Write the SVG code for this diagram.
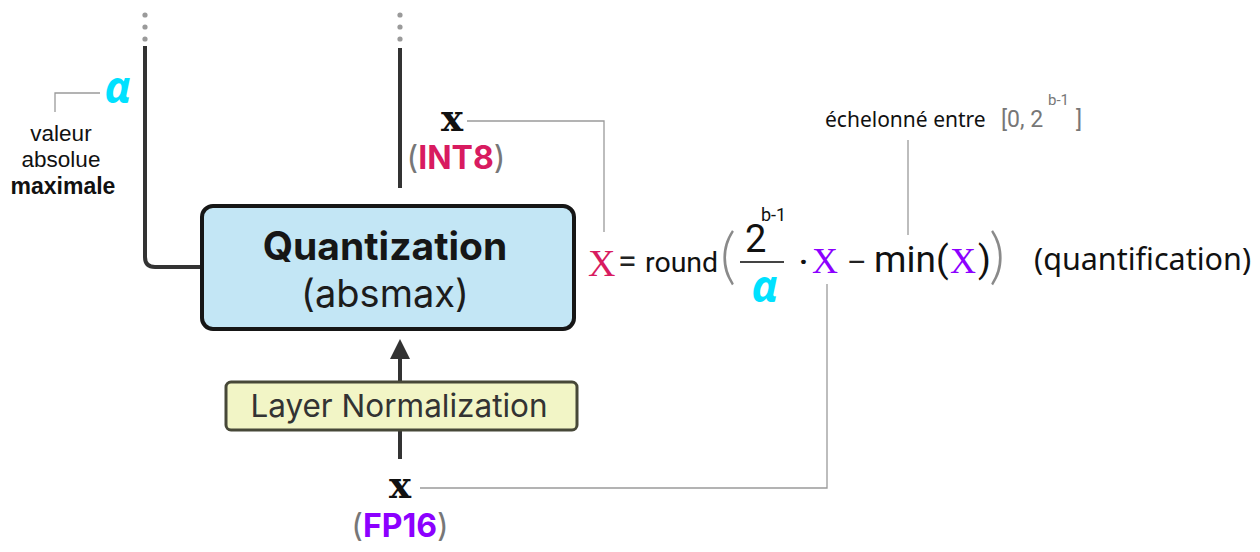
<svg xmlns="http://www.w3.org/2000/svg" width="1260" height="552" viewBox="0 0 1260 552">
<defs>
<style>
.main{stroke:#333;stroke-width:4;fill:none}
.thin{stroke:#9a9a9a;stroke-width:1.3;fill:none}
.dot{fill:#9a9a9a}
.inter{font-family:Inter,"Noto Sans",sans-serif}
.sans{font-family:"Noto Sans","Open Sans",sans-serif}
.lib{font-family:"Liberation Sans",Arial,sans-serif;fill:#111}
.rob{font-family:Roboto,"Noto Sans",sans-serif}
.serifx{font-family:"DejaVu Serif","Liberation Serif",serif;font-weight:bold;fill:#111}
.bigx{font-family:"Liberation Serif","DejaVu Serif",serif}
.alpha{font-family:"Noto Sans",sans-serif;font-weight:bold;font-style:italic;fill:#00e1ff}
.paren{font-family:Lato,"Noto Sans",sans-serif;font-weight:300;fill:#8a8a8a}
.gray{fill:#777}
.red{fill:#d81b60}
.purple{fill:#8c00ff}
</style>
<marker id="arr" viewBox="0 0 10 10" refX="0" refY="5" markerWidth="5" markerHeight="5" markerUnits="strokeWidth" orient="auto">
<path d="M0,0 L10,5 L0,10 Z" fill="#333"/>
</marker>
</defs>
<rect width="1260" height="552" fill="#fff"/>

<g id="connectors">
<circle class="dot" cx="145" cy="15" r="2.6"/>
<circle class="dot" cx="145" cy="27" r="2.6"/>
<circle class="dot" cx="145" cy="39" r="2.6"/>
<circle class="dot" cx="400" cy="15" r="2.6"/>
<circle class="dot" cx="400" cy="27" r="2.6"/>
<circle class="dot" cx="400" cy="39" r="2.6"/>
<path class="main" d="M145,46 V257 Q145,267 155,267 H203"/>
<path class="main" d="M400,48 V188"/>
<path class="main" d="M400,381 V359" marker-end="url(#arr)"/>
<path class="main" d="M400,431 V459"/>
<path class="thin" d="M420,488 H827 V284"/>
<path class="thin" d="M467,121 H604 V232"/>
<path class="thin" d="M908,140 V235"/>
<path class="thin" d="M100,93 H55 V112"/>
</g>

<g id="quantization">
<rect x="202" y="206" width="372" height="123" rx="11" fill="#c3e6f5" stroke="#161616" stroke-width="4"/>
<text class="inter" x="385" y="260" text-anchor="middle" font-size="39" font-weight="bold" fill="#161616">Quantization</text>
<text class="inter" x="385" y="307" text-anchor="middle" font-size="38" fill="#1c1c1c">(absmax)</text>
</g>

<g id="layernorm">
<rect x="226" y="382" width="351" height="48" rx="5" fill="#f2f5c6" stroke="#474838" stroke-width="3"/>
<text class="inter" x="399" y="417" text-anchor="middle" font-size="31.5" fill="#333">Layer Normalization</text>
</g>

<g id="input-x">
<text class="serifx" x="400" y="498" text-anchor="middle" font-size="37">x</text>
<text class="inter" x="400" y="537" text-anchor="middle" font-size="32" font-weight="bold"><tspan class="gray" font-weight="normal">(</tspan><tspan class="purple">FP16</tspan><tspan class="gray" font-weight="normal">)</tspan></text>
</g>

<g id="output-x">
<text class="serifx" x="452" y="131" text-anchor="middle" font-size="37">x</text>
<text class="inter" x="456" y="169" text-anchor="middle" font-size="32" font-weight="bold"><tspan class="gray" font-weight="normal">(</tspan><tspan class="red">INT8</tspan><tspan class="gray" font-weight="normal">)</tspan></text>
</g>

<g id="alpha-label">
<text class="alpha" x="118" y="103" text-anchor="middle" font-size="44">α</text>
<text class="lib" x="61" y="141" text-anchor="middle" font-size="22.5">valeur</text>
<text class="lib" x="61" y="167" text-anchor="middle" font-size="22.5">absolue</text>
<text class="lib" x="63" y="194" text-anchor="middle" font-size="23" font-weight="bold">maximale</text>
</g>

<g id="formula">
<text class="bigx red" x="588" y="276" font-size="38">X</text>
<text class="rob" x="618" y="273" font-size="34" fill="#222">=</text>
<text class="rob" x="645" y="272" font-size="28.5" fill="#111">round</text>
<text class="paren" x="720" y="277" font-size="62">(</text>
<text class="rob" x="745" y="252" font-size="38" fill="#111">2</text>
<text class="rob" x="761" y="221" font-size="18" fill="#111">b-1</text>
<line x1="740" y1="262" x2="784" y2="262" stroke="#444" stroke-width="2"/>
<text class="alpha" x="765" y="302" text-anchor="middle" font-size="44">α</text>
<text class="rob" x="799" y="272" font-size="30" font-weight="bold" fill="#111">·</text>
<text class="bigx purple" x="812" y="273" font-size="36">X</text>
<text class="rob" x="847" y="272" font-size="30" fill="#222">–</text>
<text class="rob" x="874" y="272" font-size="37" fill="#111">min(</text>
<text class="bigx purple" x="950" y="273" font-size="36">X</text>
<text class="rob" x="978" y="272" font-size="37" fill="#111">)</text>
<text class="paren" x="989" y="277" font-size="62">)</text>
<text class="sans" x="1034" y="270" font-size="30.5" fill="#111">(quantification)</text>
</g>

<g id="scale-note">
<text class="sans" x="825" y="127" font-size="21" fill="#111">échelonné entre</text>
<text class="rob gray" x="1001" y="127" font-size="23">[0, 2</text>
<text class="rob gray" x="1048" y="105" font-size="15">b-1</text>
<text class="rob gray" x="1076" y="127" font-size="23">]</text>
</g>
</svg>
